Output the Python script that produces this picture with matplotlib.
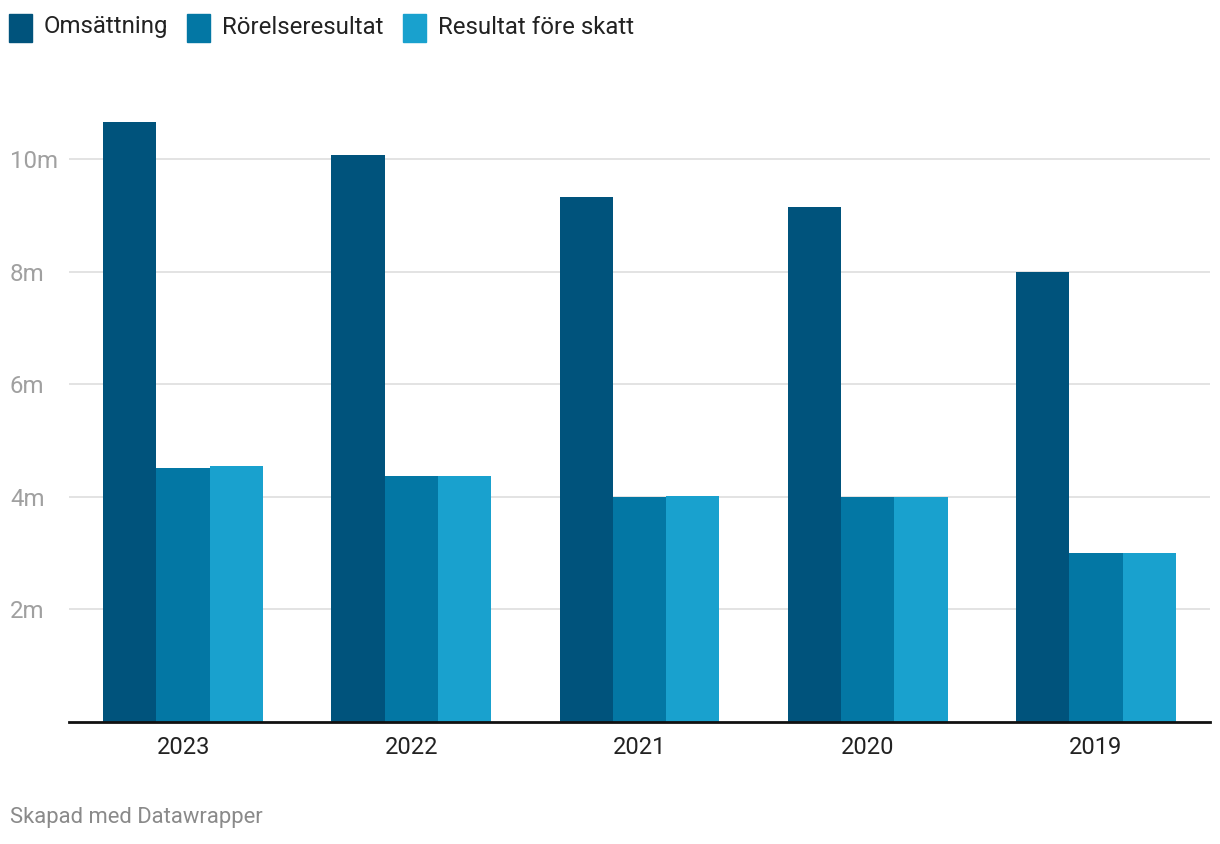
import matplotlib
matplotlib.use('Agg')
import matplotlib.pyplot as plt
import numpy as np
from matplotlib.patches import Rectangle

plt.rcParams['font.family'] = ['Roboto', 'DejaVu Sans']

years = ['2023', '2022', '2021', '2020', '2019']
series = ['Omsättning', 'Rörelseresultat', 'Resultat före skatt']
omsattning = [10.65, 10.07, 9.32, 9.14, 8.0]
rorelse = [4.51, 4.37, 4.0, 4.0, 3.0]
fore_skatt = [4.55, 4.37, 4.01, 4.0, 3.0]
colors = ['#00537c', '#0377a4', '#19a1ce']

fig = plt.figure(figsize=(12.2, 8.44), dpi=100)
ax = fig.add_axes([69 / 1220, 1 - 722 / 844, (1210 - 69) / 1220, (722 - 102.7) / 844])

x = np.arange(len(years))
w = 0.7 / 3
for i, vals in enumerate([omsattning, rorelse, fore_skatt]):
    ax.bar(x + (i - 1) * w, vals, width=w, color=colors[i], zorder=3, linewidth=0)

ax.set_xlim(-0.5, 4.5)
ax.set_ylim(0, 11)
ax.set_xticks(x)
ax.set_xticklabels(years, fontsize=17, color='#222222')
ax.tick_params(axis='x', length=0, pad=10)

ax.set_yticks([2, 4, 6, 8, 10])
ax.set_yticklabels(['2m', '4m', '6m', '8m', '10m'], fontsize=17.3, color='#a0a0a0', ha='left')
ax.tick_params(axis='y', length=0, pad=42.5)
ax.grid(axis='y', color='#e0e0e0', linewidth=1.3, zorder=0)

for s in ['top', 'right', 'left']:
    ax.spines[s].set_visible(False)
ax.spines['bottom'].set_color('#111111')
ax.spines['bottom'].set_linewidth(2)
ax.spines['bottom'].set_zorder(4)

# legend
fig.canvas.draw()
renderer = fig.canvas.get_renderer()
lx = 9
for name, c in zip(series, colors):
    fig.patches.append(Rectangle((lx / 1220, 1 - 42 / 844), 23 / 1220, 28 / 844,
                                 transform=fig.transFigure, color=c, figure=fig))
    t = fig.text((lx + 35) / 1220, 1 - 27 / 844, name, fontsize=17.3, color='#222222',
                 va='center', ha='left')
    bb = t.get_window_extent(renderer)
    lx = bb.x1 + 19

fig.text(10 / 1220, 1 - 818 / 844, 'Skapad med Datawrapper', fontsize=15.8,
         color='#8a8a8a', va='center', ha='left')

fig.savefig('out.png', dpi=100, facecolor='white')
